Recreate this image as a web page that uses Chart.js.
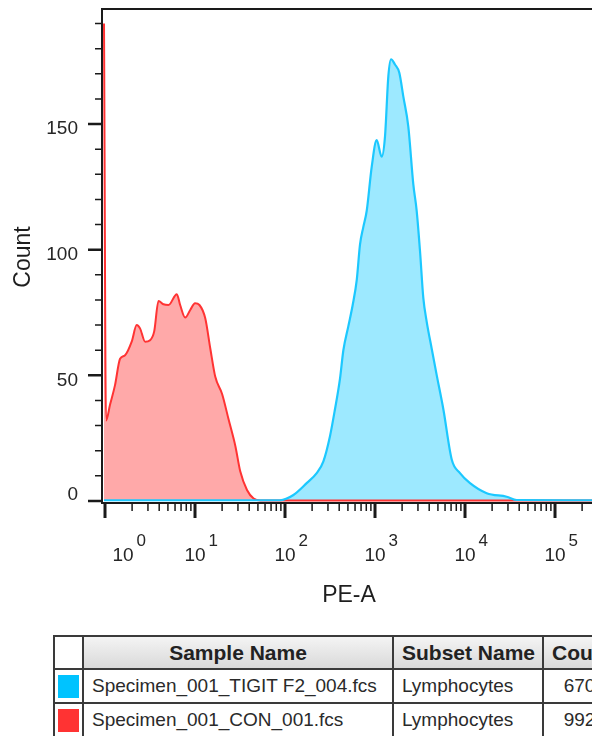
<!DOCTYPE html>
<html>
<head>
<meta charset="utf-8">
<script src="https://cdn.jsdelivr.net/npm/chart.js@4.4.0/dist/chart.umd.min.js"></script>
<style>
  html, body { margin: 0; padding: 0; background: #fff; overflow: hidden; }
  body { width: 592px; height: 736px; position: relative; font-family: "Liberation Sans", Arial, sans-serif; }
  #chart { position: absolute; left: 0; top: 0; }
  #legend { position: absolute; left: 53px; top: 635px; border-collapse: collapse; table-layout: fixed; width: 558px; }
  #legend th, #legend td { border: 2px solid #3a3a3a; padding: 0 8px; white-space: nowrap; overflow: hidden; }
  #legend th { height: 31px; font-weight: bold; font-size: 21px; color: #222; text-align: center;
               background: linear-gradient(#f4f4f4, #d9d9d9); }
  #legend th.blank { background: #fff; }
  #legend td { height: 32px; font-size: 19px; color: #2a2a2a; }
  #legend td.sw { padding: 0; text-align: center; }
  #legend td.sw span { display: inline-block; width: 21px; height: 23px; vertical-align: middle; }
  #legend td.num { text-align: right; padding-right: 5px; }
</style>
</head>
<body>
<canvas id="chart" width="592" height="630"></canvas>
<table id="legend">
  <colgroup><col style="width:29px"><col style="width:310px"><col style="width:150px"><col style="width:69px"></colgroup>
  <thead><tr><th class="blank"></th><th>Sample Name</th><th>Subset Name</th><th>Count</th></tr></thead>
  <tbody id="rows"></tbody>
</table>
<script>
// PE-A histogram, TIGIT stain vs control
const tigitX = [0.975, 88, 124, 174, 225, 267, 316, 359, 408, 445, 505, 565, 627, 681, 741, 809, 919, 1044, 1186, 1291, 1406, 1506, 1667, 1862, 2062, 2344, 2665, 2904, 3162, 3443, 3750, 4266, 4853, 5745, 7116, 8796, 11370, 17420, 29040, 37530, 260000];
const tigitCount = [0.3, 0.3, 2.4, 7.1, 11.1, 15.8, 25.8, 36.5, 48.6, 60, 69.5, 78, 88, 102, 109, 115.5, 133, 143.6, 137, 145, 169, 175.8, 173.7, 170.4, 161, 149, 126, 115.5, 99.5, 80.7, 71.4, 60.6, 50, 36.5, 16.5, 11.1, 7.1, 3.1, 1.7, 0.4, 0.3];

const conX = [0.975, 1.026, 1.14, 1.29, 1.47, 1.67, 1.98, 2.25, 2.45, 2.79, 3.17, 3.52, 3.93, 4.46, 5.07, 6.28, 6.84, 7.78, 8.85, 10.0, 11.2, 13.0, 14.8, 16.8, 20.0, 23.6, 28.1, 31.8, 37.8, 44.8, 53.2, 100, 1000, 10000, 100000, 260000];
const conCount = [190, 32, 38.5, 46, 56.6, 58, 63.4, 70, 68.7, 63.4, 64, 67.5, 79.6, 78.3, 78, 82.3, 78, 73, 76, 78.7, 78, 72.7, 60.6, 49.4, 42.6, 32.5, 21.8, 11.8, 4.4, 1, 0.2, 0.2, 0.2, 0.2, 0.2, 0.2];

// legend table
const sampleNames = ['Specimen_001_TIGIT F2_004.fcs', 'Specimen_001_CON_001.fcs'];
const subsetNames = ['Lymphocytes', 'Lymphocytes'];
const eventCounts = ['6704', '9925'];
const swatchColors = ['#00c3ff', '#ff3333'];

// axis ticks
const yMajorTicks = [0, 50, 100, 150];
const yMinorTicks = [10, 20, 30, 40, 60, 70, 80, 90, 110, 120, 130, 140, 160, 170, 180, 190];
const xDecades = [0, 1, 2, 3, 4, 5];
const xMinorSteps = [2, 3, 4, 5, 6, 7, 8, 9];

const rows = document.getElementById('rows');
sampleNames.forEach(function (name, i) {
  const tr = document.createElement('tr');
  tr.innerHTML = '<td class="sw"><span style="background:' + swatchColors[i] + '"></span></td>' +
    '<td>' + name + '</td><td>' + subsetNames[i] + '</td><td class="num">' + eventCounts[i] + '</td>';
  rows.appendChild(tr);
});

const FONT = '"Liberation Sans", Arial, sans-serif';

const flowAxes = {
  id: 'flowAxes',
  afterDatasetsDraw(chart) {
    const ctx = chart.ctx;
    const a = chart.chartArea;
    const x = chart.scales.x, y = chart.scales.y;
    ctx.save();
    ctx.strokeStyle = '#1a1a1a';
    ctx.lineCap = 'butt';

    // frame: top, left, bottom
    ctx.lineWidth = 2;
    ctx.beginPath();
    ctx.moveTo(a.left, a.top); ctx.lineTo(a.right, a.top);
    ctx.moveTo(a.left, a.top - 1); ctx.lineTo(a.left, a.bottom + 1);
    ctx.moveTo(a.left - 1, a.bottom); ctx.lineTo(a.right, a.bottom);
    ctx.stroke();

    // y ticks
    ctx.lineWidth = 1.5;
    ctx.beginPath();
    yMinorTicks.forEach(function (v) {
      const py = y.getPixelForValue(v);
      ctx.moveTo(a.left - 7, py); ctx.lineTo(a.left, py);
    });
    ctx.stroke();
    ctx.lineWidth = 2.5;
    ctx.beginPath();
    yMajorTicks.forEach(function (v) {
      const py = y.getPixelForValue(v);
      ctx.moveTo(a.left - 14, py); ctx.lineTo(a.left, py);
    });
    ctx.stroke();

    ctx.fillStyle = '#262626';
    ctx.font = '19px ' + FONT;
    ctx.textAlign = 'right';
    ctx.textBaseline = 'middle';
    yMajorTicks.forEach(function (v) {
      const py = y.getPixelForValue(v);
      ctx.fillText(String(v), a.left - 24, v === 0 ? py - 6 : py + 5);
    });

    // x ticks (log decades)
    ctx.lineWidth = 1.5;
    ctx.beginPath();
    xDecades.forEach(function (e) {
      xMinorSteps.forEach(function (m) {
        const px = x.getPixelForValue(m * Math.pow(10, e));
        if (px > a.left && px < a.right) { ctx.moveTo(px, a.bottom); ctx.lineTo(px, a.bottom + 8); }
      });
    });
    ctx.stroke();
    ctx.lineWidth = 3;
    ctx.beginPath();
    xDecades.forEach(function (e) {
      const px = x.getPixelForValue(Math.pow(10, e));
      ctx.moveTo(px, a.bottom); ctx.lineTo(px, a.bottom + 15);
    });
    ctx.stroke();

    ctx.textBaseline = 'alphabetic';
    xDecades.forEach(function (e, i) {
      const px = x.getPixelForValue(Math.pow(10, e));
      const cx = i === 0 ? px + 18 : px;
      ctx.font = '19px ' + FONT;
      ctx.textAlign = 'center';
      ctx.fillText('10', cx, 561);
      const w = ctx.measureText('10').width;
      ctx.font = '17px ' + FONT;
      ctx.textAlign = 'left';
      ctx.fillText(String(e), cx + w / 2 + 3, 546);
    });

    // axis titles
    ctx.fillStyle = '#1e1e1e';
    ctx.font = '23px ' + FONT;
    ctx.textAlign = 'center';
    ctx.textBaseline = 'middle';
    ctx.fillText('PE-A', (a.left + a.right) / 2 + 2, 596);
    ctx.translate(24, 257);
    ctx.rotate(-Math.PI / 2);
    ctx.fillText('Count', 0, 0);
    ctx.restore();
  }
};

new Chart(document.getElementById('chart').getContext('2d'), {
  type: 'line',
  data: {
    datasets: [
      {
        label: sampleNames[0],
        data: tigitX.map(function (v, i) { return { x: v, y: tigitCount[i] }; }),
        borderColor: '#1cc8ff',
        backgroundColor: '#9de9ff',
        fill: 'origin',
        borderWidth: 2.2,
        pointRadius: 0,
        cubicInterpolationMode: 'monotone'
      },
      {
        label: sampleNames[1],
        data: conX.map(function (v, i) { return { x: v, y: conCount[i] }; }),
        borderColor: '#ff3333',
        backgroundColor: '#ffa9a9',
        fill: 'origin',
        borderWidth: 2,
        pointRadius: 0,
        cubicInterpolationMode: 'monotone'
      }
    ]
  },
  options: {
    responsive: false,
    animation: false,
    layout: { padding: { left: 102, right: 0, top: 9, bottom: 127 } },
    scales: {
      x: { type: 'logarithmic', bounds: 'data', min: 0.926, max: 257600, display: false },
      y: { type: 'linear', min: -0.8, max: 195.8, display: false }
    },
    plugins: {
      legend: { display: false },
      tooltip: { enabled: false },
      filler: { drawTime: 'beforeDatasetsDraw' }
    }
  },
  plugins: [flowAxes]
});
</script>
</body>
</html>
